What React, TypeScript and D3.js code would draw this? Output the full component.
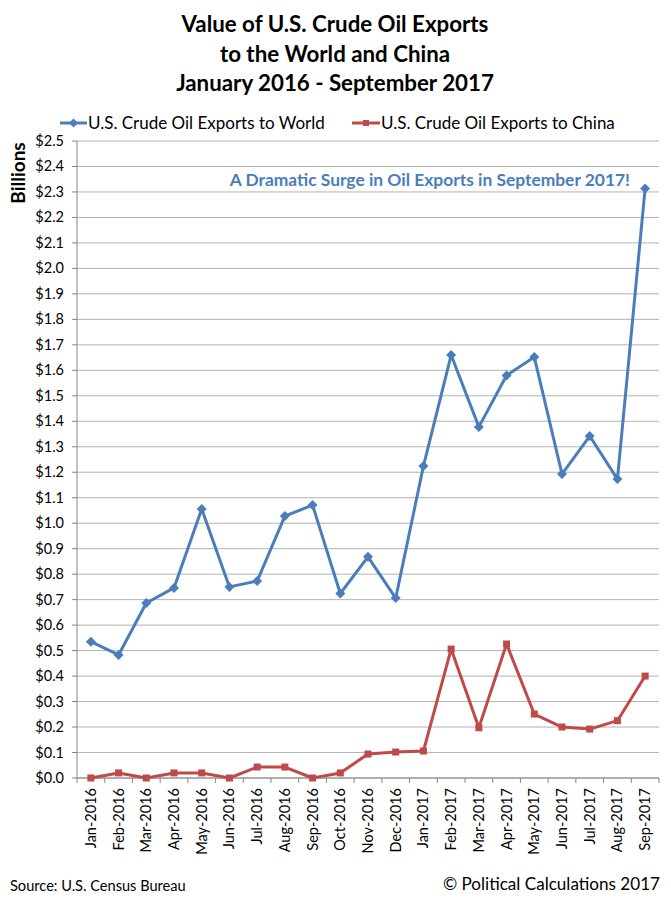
import React from "react";
import * as d3 from "d3";

const months = [
  "Jan-2016", "Feb-2016", "Mar-2016", "Apr-2016", "May-2016", "Jun-2016", "Jul-2016",
  "Aug-2016", "Sep-2016", "Oct-2016", "Nov-2016", "Dec-2016", "Jan-2017", "Feb-2017",
  "Mar-2017", "Apr-2017", "May-2017", "Jun-2017", "Jul-2017", "Aug-2017", "Sep-2017",
];
const worldValues = [
  0.535, 0.483, 0.687, 0.746, 1.056, 0.75, 0.773, 1.028, 1.071, 0.724, 0.868, 0.706,
  1.224, 1.66, 1.378, 1.58, 1.652, 1.193, 1.342, 1.173, 2.314,
];
const chinaValues = [
  0.0, 0.02, 0.0, 0.02, 0.02, 0.0, 0.043, 0.043, 0.0, 0.02, 0.094, 0.102,
  0.106, 0.506, 0.197, 0.526, 0.251, 0.2, 0.192, 0.225, 0.4,
];
const yTicks = d3.range(0, 26).map((i) => i / 10);
const titleLines = [
  "Value of U.S. Crude Oil Exports",
  "to the World and China",
  "January 2016 - September 2017",
];
const seriesNames = ["U.S. Crude Oil Exports to World", "U.S. Crude Oil Exports to China"];

const W = 671;
const H = 902;
const left = 77;
const right = 659;
const top = 141;
const bottom = 778;
const BLUE = "#4A7EBB";
const RED = "#BE4B48";
const FONT = "Lato, 'Open Sans', sans-serif";

export default function App() {
  const x = d3.scaleBand<string>().domain(months).range([left, right]);
  const y = d3.scaleLinear().domain([0, 2.5]).range([bottom, top]);
  const cx = (m: string) => (x(m) as number) + x.bandwidth() / 2;
  const line = d3
    .line<number>()
    .x((_, i) => cx(months[i]))
    .y((v) => y(v));
  const diamond = (px: number, py: number, r: number) =>
    `M${px},${py - r}L${px + r},${py}L${px},${py + r}L${px - r},${py}Z`;

  return (
    <svg
      width={W}
      height={H}
      style={{ position: "absolute", left: 0, top: 0, background: "#fff" }}
      fontFamily={FONT}
    >
      <rect width={W} height={H} fill="#fff" />
      {titleLines.map((t, i) => (
        <text
          key={t}
          x={335}
          y={32 + i * 29.5}
          textAnchor="middle"
          fontWeight="bold"
          fontSize={22.3}
          fill="#000"
        >
          {t}
        </text>
      ))}

      {/* legend */}
      <g>
        <line x1={60} x2={87} y1={123} y2={123} stroke={BLUE} strokeWidth={3} />
        <path d={diamond(73.5, 123, 4.5)} fill={BLUE} />
        <text x={88} y={129} fontSize={17}>{seriesNames[0]}</text>
      </g>
      <g>
        <line x1={352} x2={380} y1={123} y2={123} stroke={RED} strokeWidth={3} />
        <rect x={363} y={120} width={6} height={6} fill={RED} />
        <text x={381} y={129} fontSize={17}>{seriesNames[1]}</text>
      </g>

      {/* gridlines */}
      {yTicks.map((t) => (
        <line key={t} x1={left} x2={right} y1={y(t)} y2={y(t)} stroke="#B3B3B3" strokeWidth={1} />
      ))}
      {/* y axis */}
      <line x1={left} x2={left} y1={top} y2={bottom} stroke="#868686" />
      {yTicks.map((t) => (
        <g key={"yt" + t}>
          <line x1={left - 5} x2={left} y1={y(t)} y2={y(t)} stroke="#868686" />
          <text x={64} y={y(t) + 5} textAnchor="end" fontSize={14.5}>
            {"$" + t.toFixed(1)}
          </text>
        </g>
      ))}
      <text
        transform={`translate(25,173) rotate(-90)`}
        textAnchor="middle"
        fontWeight="bold"
        fontSize={19}
      >
        Billions
      </text>

      {/* x axis */}
      <line x1={left} x2={right} y1={bottom} y2={bottom} stroke="#868686" />
      {months.map((m) => (
        <line
          key={"xt" + m}
          x1={x(m) as number}
          x2={x(m) as number}
          y1={bottom}
          y2={bottom + 5}
          stroke="#868686"
        />
      ))}
      <line x1={right} x2={right} y1={bottom} y2={bottom + 5} stroke="#868686" />
      {months.map((m) => (
        <text
          key={"xl" + m}
          transform={`translate(${cx(m) + 5},${bottom + 10}) rotate(-90)`}
          textAnchor="end"
          fontSize={14.5}
        >
          {m}
        </text>
      ))}

      {/* series */}
      <path d={line(chinaValues) || ""} fill="none" stroke={RED} strokeWidth={3} strokeLinejoin="round" />
      {chinaValues.map((v, i) => (
        <rect key={"c" + i} x={cx(months[i]) - 3.5} y={y(v) - 3.5} width={7} height={7} fill={RED} />
      ))}
      <path d={line(worldValues) || ""} fill="none" stroke={BLUE} strokeWidth={3} strokeLinejoin="round" />
      {worldValues.map((v, i) => (
        <path key={"w" + i} d={diamond(cx(months[i]), y(v), 5)} fill={BLUE} />
      ))}

      {/* annotation */}
      <text x={630} y={186} textAnchor="end" fontWeight="bold" fontSize={17.4} fill={BLUE}>
        A Dramatic Surge in Oil Exports in September 2017!
      </text>

      {/* footer */}
      <text x={10} y={891} fontSize={14.6}>Source: U.S. Census Bureau</text>
      <text x={660} y={890} textAnchor="end" fontSize={17.1}>© Political Calculations 2017</text>
    </svg>
  );
}
